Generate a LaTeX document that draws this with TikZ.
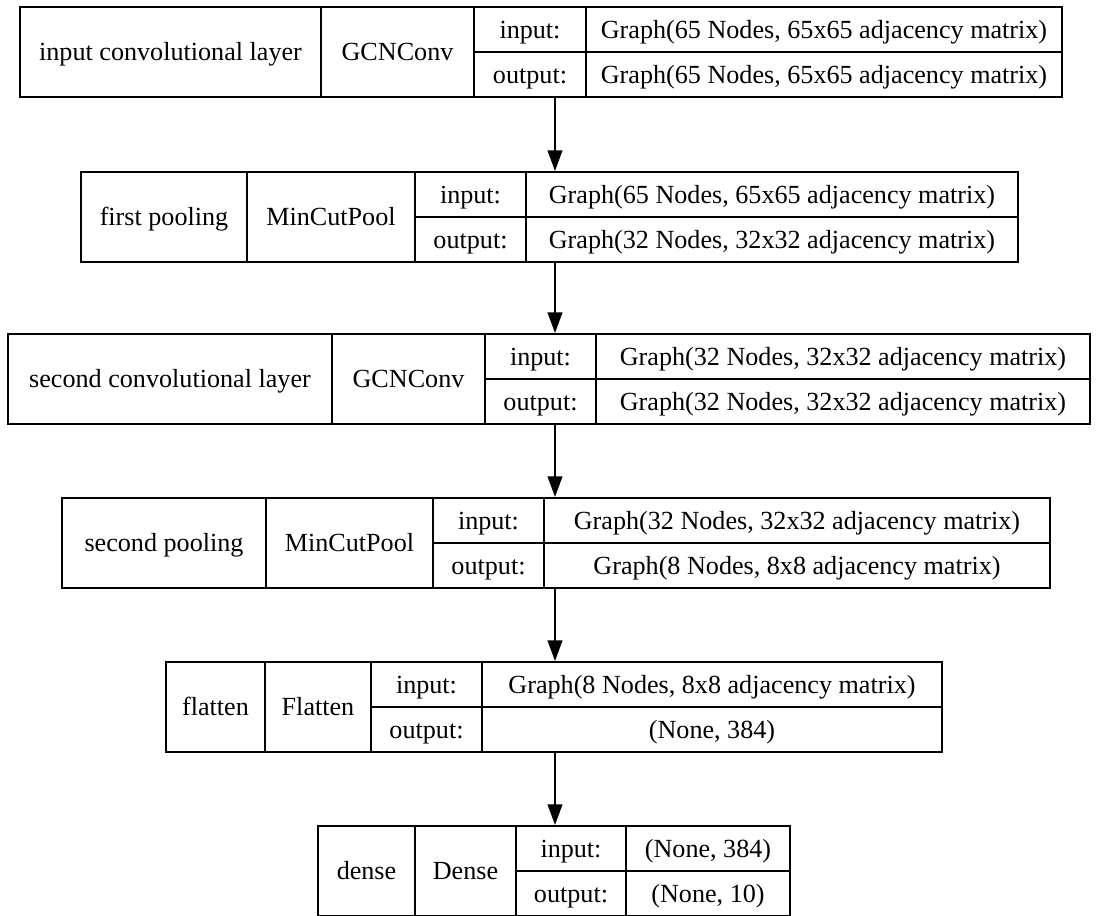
\documentclass[tikz,border=0pt]{standalone}
\usepackage{fontspec}
\setmainfont{Liberation Serif}
\usetikzlibrary{arrows.meta,fit}
\begin{document}
\begin{tikzpicture}[x=0.75pt,y=-0.75pt,line width=1.5pt,
  txt/.style={font=\fontsize{19.6}{23}\selectfont,inner sep=0pt,text height=17.4pt,text depth=4.3pt},
  frame/.style={draw,rectangle,inner sep=0pt},
  flow/.style={-{Triangle[length=15.5pt,width=11pt]}}]
\useasboundingbox (0,0) rectangle (1097,915);
\clip (0,0) rectangle (1097,915);
\coordinate (axis) at (555,0);

% ---- layer 1: input convolutional layer
\node[frame,fit={(20,7)(1062,97)}] (b1) {};
\draw (321,7) -- (321,97) (474,7) -- (474,97) (586,7) -- (586,97) (474,52) -- (1062,52);
\node[txt] (b1n) at ({(20+321)/2},52) {input convolutional layer};
\node[txt] (b1c) at ({(321+474)/2},52) {GCNConv};
\node[txt] (b1i) at ({(474+586)/2},29.5) {input:};
\node[txt] (b1o) at ({(474+586)/2},74.5) {output:};
\node[txt] (b1iv) at ({(586+1062)/2},29.5) {Graph(65 Nodes, 65x65 adjacency matrix)};
\node[txt] (b1ov) at ({(586+1062)/2},74.5) {Graph(65 Nodes, 65x65 adjacency matrix)};

% ---- layer 2: first pooling
\node[frame,fit={(81,172)(1018,262)}] (b2) {};
\draw (247,172) -- (247,262) (415,172) -- (415,262) (526,172) -- (526,262) (415,217) -- (1018,217);
\node[txt] (b2n) at ({(81+247)/2},217) {first pooling};
\node[txt] (b2c) at ({(247+415)/2},217) {MinCutPool};
\node[txt] (b2i) at ({(415+526)/2},194.5) {input:};
\node[txt] (b2o) at ({(415+526)/2},239.5) {output:};
\node[txt] (b2iv) at ({(526+1018)/2},194.5) {Graph(65 Nodes, 65x65 adjacency matrix)};
\node[txt] (b2ov) at ({(526+1018)/2},239.5) {Graph(32 Nodes, 32x32 adjacency matrix)};

% ---- layer 3: second convolutional layer
\node[frame,fit={(8,334)(1090,424)}] (b3) {};
\draw (332,334) -- (332,424) (485,334) -- (485,424) (596,334) -- (596,424) (485,379) -- (1090,379);
\node[txt] (b3n) at ({(8+332)/2},379) {second convolutional layer};
\node[txt] (b3c) at ({(332+485)/2},379) {GCNConv};
\node[txt] (b3i) at ({(485+596)/2},356.5) {input:};
\node[txt] (b3o) at ({(485+596)/2},401.5) {output:};
\node[txt] (b3iv) at ({(596+1090)/2},356.5) {Graph(32 Nodes, 32x32 adjacency matrix)};
\node[txt] (b3ov) at ({(596+1090)/2},401.5) {Graph(32 Nodes, 32x32 adjacency matrix)};

% ---- layer 4: second pooling
\node[frame,fit={(62,498)(1050,588)}] (b4) {};
\draw (266,498) -- (266,588) (433,498) -- (433,588) (544,498) -- (544,588) (433,543) -- (1050,543);
\node[txt] (b4n) at ({(62+266)/2},543) {second pooling};
\node[txt] (b4c) at ({(266+433)/2},543) {MinCutPool};
\node[txt] (b4i) at ({(433+544)/2},520.5) {input:};
\node[txt] (b4o) at ({(433+544)/2},565.5) {output:};
\node[txt] (b4iv) at ({(544+1050)/2},520.5) {Graph(32 Nodes, 32x32 adjacency matrix)};
\node[txt] (b4ov) at ({(544+1050)/2},565.5) {Graph(8 Nodes, 8x8 adjacency matrix)};

% ---- layer 5: flatten
\node[frame,fit={(166,662)(942,752)}] (b5) {};
\draw (265,662) -- (265,752) (371,662) -- (371,752) (482,662) -- (482,752) (371,707) -- (942,707);
\node[txt] (b5n) at ({(166+265)/2},707) {flatten};
\node[txt] (b5c) at ({(265+371)/2},707) {Flatten};
\node[txt] (b5i) at ({(371+482)/2},684.5) {input:};
\node[txt] (b5o) at ({(371+482)/2},729.5) {output:};
\node[txt] (b5iv) at ({(482+942)/2},684.5) {Graph(8 Nodes, 8x8 adjacency matrix)};
\node[txt] (b5ov) at ({(482+942)/2},729.5) {(None, 384)};

% ---- layer 6: dense
\node[frame,fit={(318,826)(790,916)}] (b6) {};
\draw (415,826) -- (415,916) (516,826) -- (516,916) (626,826) -- (626,916) (516,871) -- (790,871);
\node[txt] (b6n) at ({(318+415)/2},871) {dense};
\node[txt] (b6c) at ({(415+516)/2},871) {Dense};
\node[txt] (b6i) at ({(516+626)/2},848.5) {input:};
\node[txt] (b6o) at ({(516+626)/2},893.5) {output:};
\node[txt] (b6iv) at ({(626+790)/2},848.5) {(None, 384)};
\node[txt] (b6ov) at ({(626+790)/2},893.5) {(None, 10)};

% ---- data flow between layers
\draw[flow] (b1.south -| axis) -- (b2.north -| axis);
\draw[flow] (b2.south -| axis) -- (b3.north -| axis);
\draw[flow] (b3.south -| axis) -- (b4.north -| axis);
\draw[flow] (b4.south -| axis) -- (b5.north -| axis);
\draw[flow] (b5.south -| axis) -- (b6.north -| axis);
\end{tikzpicture}
\end{document}
